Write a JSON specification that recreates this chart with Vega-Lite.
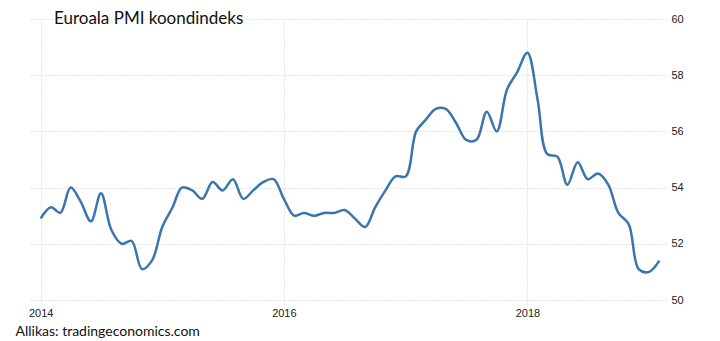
{
  "$schema": "https://vega.github.io/schema/vega-lite/v6.json",
  "autosize": "none",
  "width": 637,
  "height": 281,
  "padding": {"left": 30, "top": 19, "right": 53, "bottom": 41},
  "background": "white",
  "title": {"text": "Euroala PMI koondindeks", "anchor": "start", "frame": "group", "dx": 24, "offset": 0, "dy": 28, "baseline": "alphabetic", "font": "Lato", "fontSize": 17, "fontWeight": "normal", "color": "#111"},
  "config": {"view": {"stroke": null}},
  "data": {"values": [
    {"date": "2014-01-01", "v": 52.9}, {"date": "2014-02-01", "v": 53.3}, {"date": "2014-03-01", "v": 53.1}, {"date": "2014-04-01", "v": 54.0}, {"date": "2014-05-01", "v": 53.5}, {"date": "2014-06-01", "v": 52.8}, {"date": "2014-07-01", "v": 53.8}, {"date": "2014-08-01", "v": 52.5}, {"date": "2014-09-01", "v": 52.0}, {"date": "2014-10-01", "v": 52.1}, {"date": "2014-11-01", "v": 51.1}, {"date": "2014-12-01", "v": 51.4},
    {"date": "2015-01-01", "v": 52.6}, {"date": "2015-02-01", "v": 53.3}, {"date": "2015-03-01", "v": 54.0}, {"date": "2015-04-01", "v": 53.9}, {"date": "2015-05-01", "v": 53.6}, {"date": "2015-06-01", "v": 54.2}, {"date": "2015-07-01", "v": 53.9}, {"date": "2015-08-01", "v": 54.3}, {"date": "2015-09-01", "v": 53.6}, {"date": "2015-10-01", "v": 53.9}, {"date": "2015-11-01", "v": 54.2}, {"date": "2015-12-01", "v": 54.3},
    {"date": "2016-01-01", "v": 53.6}, {"date": "2016-02-01", "v": 53.0}, {"date": "2016-03-01", "v": 53.1}, {"date": "2016-04-01", "v": 53.0}, {"date": "2016-05-01", "v": 53.1}, {"date": "2016-06-01", "v": 53.1}, {"date": "2016-07-01", "v": 53.2}, {"date": "2016-08-01", "v": 52.9}, {"date": "2016-09-01", "v": 52.6}, {"date": "2016-10-01", "v": 53.3}, {"date": "2016-11-01", "v": 53.9}, {"date": "2016-12-01", "v": 54.4},
    {"date": "2017-01-01", "v": 54.4}, {"date": "2017-02-01", "v": 56.0}, {"date": "2017-03-01", "v": 56.4}, {"date": "2017-04-01", "v": 56.8}, {"date": "2017-05-01", "v": 56.8}, {"date": "2017-06-01", "v": 56.3}, {"date": "2017-07-01", "v": 55.7}, {"date": "2017-08-01", "v": 55.7}, {"date": "2017-09-01", "v": 56.7}, {"date": "2017-10-01", "v": 56.0}, {"date": "2017-11-01", "v": 57.5}, {"date": "2017-12-01", "v": 58.1},
    {"date": "2018-01-01", "v": 58.8}, {"date": "2018-02-01", "v": 57.1}, {"date": "2018-03-01", "v": 55.2}, {"date": "2018-04-01", "v": 55.1}, {"date": "2018-05-01", "v": 54.1}, {"date": "2018-06-01", "v": 54.9}, {"date": "2018-07-01", "v": 54.3}, {"date": "2018-08-01", "v": 54.5}, {"date": "2018-09-01", "v": 54.1}, {"date": "2018-10-01", "v": 53.1}, {"date": "2018-11-01", "v": 52.7}, {"date": "2018-12-01", "v": 51.1},
    {"date": "2019-01-01", "v": 51.0}, {"date": "2019-02-01", "v": 51.4}
  ]},
  "mark": {"type": "line", "interpolate": "catmull-rom", "color": "#3a75ae", "strokeWidth": 2.5},
  "encoding": {
    "x": {
      "field": "date", "type": "temporal",
      "scale": {"type": "utc", "domain": [{"year": 2013, "month": 11, "date": 30, "utc": true}, {"year": 2019, "month": 2, "date": 24, "utc": true}]},
      "axis": {
        "values": [{"year": 2014, "month": 1, "date": 1, "utc": true}, {"year": 2016, "month": 1, "date": 1, "utc": true}, {"year": 2018, "month": 1, "date": 1, "utc": true}],
        "format": "%Y", "formatType": "utc",
        "domain": false, "grid": true, "gridColor": "#d0d0d0", "gridDash": [1, 2], "gridWidth": 1,
        "ticks": true, "tickSize": 4, "tickColor": "#d0d0d0", "tickDash": [1, 2],
        "labelFont": "Liberation Sans", "labelFontSize": 11, "labelColor": "#222", "labelPadding": 3,
        "title": "Allikas: tradingeconomics.com", "titleX": -15, "titleY": 35, "titleAlign": "left", "titleAnchor": "start", "titleBaseline": "alphabetic",
        "titleFont": "Lato", "titleFontSize": 14, "titleFontWeight": "normal", "titleColor": "#111"
      }
    },
    "y": {
      "field": "v", "type": "quantitative",
      "scale": {"domain": [50, 60], "nice": false, "zero": false},
      "axis": {
        "orient": "right", "values": [50, 52, 54, 56, 58, 60],
        "domain": false, "ticks": false, "grid": true, "gridColor": "#d0d0d0", "gridDash": [1, 2], "gridWidth": 1,
        "labelFont": "Liberation Sans", "labelFontSize": 11, "labelColor": "#222", "labelPadding": 4,
        "title": null
      }
    }
  }
}
